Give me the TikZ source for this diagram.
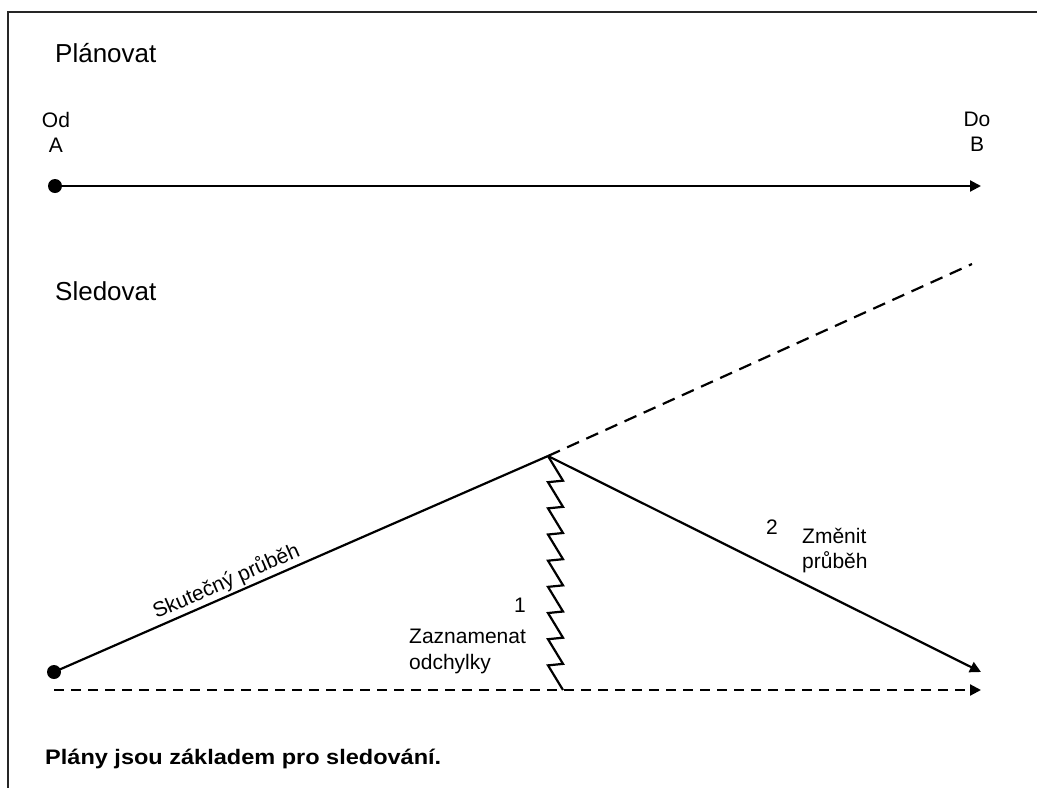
\documentclass[tikz,border=0pt]{standalone}
\usepackage{fontspec}
\setmainfont{Liberation Sans}
\usetikzlibrary{arrows.meta}

% two-line labels whose baseline is that of the first line
\newcommand\linesL[2]{\begin{tabular}[t]{@{}l@{}}#1\\#2\end{tabular}}
\newcommand\linesC[2]{\begin{tabular}[t]{@{}c@{}}#1\\#2\end{tabular}}

\tikzset{
  heading/.style={font=\fontsize{26}{30}\selectfont, anchor=base west, inner sep=0pt},
  label/.style={font=\fontsize{21}{25}\selectfont, inner sep=0pt},
  enddot/.style={circle, fill=black, minimum size=14pt, inner sep=0pt},
  course/.style={line width=2.2pt},
  planned/.style={line width=2.2pt, dash pattern=on 10pt off 7pt},
  tip/.style={-{Triangle[length=11pt,width=11pt]}},
}

\begin{document}
\begin{tikzpicture}[x=1pt, y=-1pt]
  \useasboundingbox (0,0) rectangle (1037,788);

  % frame: top and left edges
  \draw[line width=1.6pt, black!85] (1037,12) -- (8,12) -- (8,788);

  % plan
  \node[heading] (plan) at (55,62) {Plánovat};
  \node[label, anchor=base] (od) at (56,127) {\linesC{Od}{A}};
  \node[label, anchor=base] (do) at (977,126) {\linesC{Do}{B}};
  \node[enddot] (a1) at (55,186) {};
  \coordinate (b1) at (981,186);
  \draw[course, tip] (a1.center) -- (b1);

  % monitoring
  \node[heading] (monitor) at (55,300) {Sledovat};
  \node[enddot] (a2) at (54,672) {};
  \coordinate (apex) at (548,456);
  \coordinate (trend) at (972,264);
  \coordinate (b2) at (981,672);
  \coordinate (s2) at (54,690);
  \coordinate (e2) at (981,690);
  \coordinate (zz) at (563,690);

  \draw[course] (a2.center) -- node[pos=0.36, sloped, above, inner sep=2pt,
      font=\fontsize{21}{25}\selectfont] (actual) {Skutečný průběh} (apex);
  \draw[line width=2.2pt, dash pattern=on 13pt off 8pt] (apex) -- (trend);
  \draw[course, tip] (apex) -- (b2);
  \draw[planned, tip] (s2) -- (e2);

  % deviation zigzag
  \draw[course, line join=miter] (apex)
    \foreach \k in {1,...,8} { -- ++(15,24.67) -- ++(-15,1.5) } -- (zz);

  \node[label, anchor=base] (n1) at (520,612) {1};
  \node[label, anchor=base west, font=\fontsize{21}{26}\selectfont] (record) at (409,643) {\linesL{Zaznamenat}{odchylky}};
  \node[label, anchor=base] (n2) at (772,534) {2};
  \node[label, anchor=base west] (change) at (802,543) {\linesL{Změnit}{průběh}};

  \node[font=\bfseries\fontsize{21}{25}\selectfont\addfontfeature{FakeStretch=1.12},
    anchor=base west, inner sep=0pt] (note) at (45,764) {Plány jsou základem pro sledování.};
\end{tikzpicture}
\end{document}
